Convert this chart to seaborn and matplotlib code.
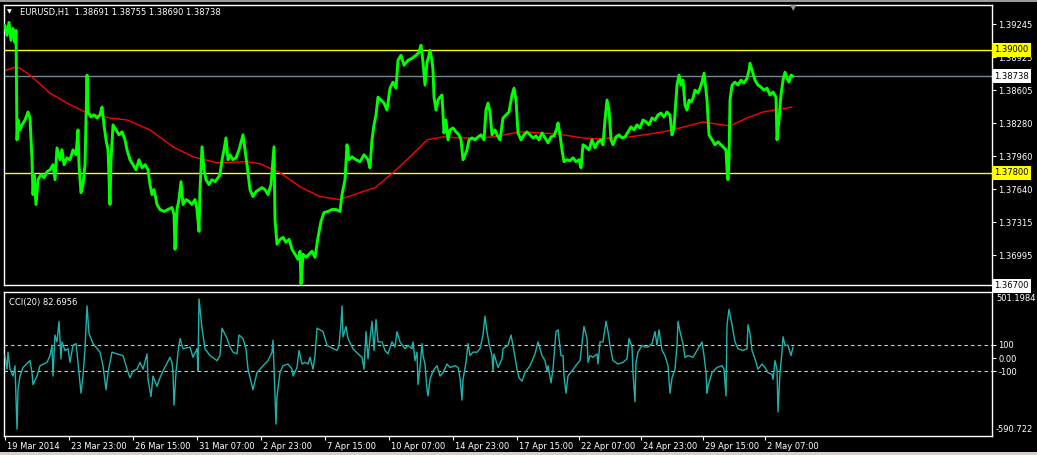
import matplotlib
matplotlib.use("Agg")
import matplotlib.pyplot as plt
import matplotlib.transforms as mtransforms
from matplotlib.patches import Rectangle
import pandas as pd
import seaborn as sns

# EURUSD H1, one sample every few bars (bar index, close)
price_points = [
    (0, 1.39236), (2, 1.39139), (4, 1.39265), (6, 1.39090), (8, 1.39206), (10, 1.39071), (11, 1.39187),
    (12, 1.38120), (13, 1.38314), (15, 1.38217), (17, 1.38266), (20, 1.38314), (23, 1.38392), (25, 1.38333),
    (27, 1.37926), (28, 1.37587), (29, 1.37781), (31, 1.37490), (33, 1.37732), (36, 1.37781), (39, 1.37751),
    (42, 1.37810), (45, 1.37829), (48, 1.37878), (50, 1.37732), (52, 1.38042), (55, 1.37926), (57, 1.38023),
    (59, 1.37878), (62, 1.37945), (65, 1.37926), (68, 1.38023), (71, 1.37975), (73, 1.38217), (74, 1.37878),
    (76, 1.37606), (78, 1.37684), (80, 1.37878), (81, 1.38314), (82, 1.38751), (83, 1.38392), (86, 1.38343),
    (89, 1.38363), (92, 1.38333), (95, 1.38363), (97, 1.38440), (99, 1.38266), (101, 1.38120), (103, 1.38023),
    (105, 1.37490), (106, 1.37926), (108, 1.38266), (111, 1.38217), (114, 1.38169), (117, 1.38198),
    (120, 1.38120), (122, 1.38023), (125, 1.37926), (128, 1.37878), (131, 1.37829), (134, 1.37926),
    (137, 1.37848), (140, 1.37878), (143, 1.37829), (145, 1.37684), (147, 1.37587), (149, 1.37635),
    (152, 1.37490), (155, 1.37441), (159, 1.37422), (163, 1.37441), (167, 1.37460), (169, 1.37393),
    (170, 1.37053), (172, 1.37441), (174, 1.37538), (176, 1.37713), (178, 1.37490), (181, 1.37538),
    (184, 1.37519), (187, 1.37490), (190, 1.37538), (192, 1.37441), (194, 1.37228), (195, 1.37635),
    (197, 1.38052), (199, 1.37829), (201, 1.37732), (204, 1.37684), (207, 1.37732), (210, 1.37713),
    (213, 1.37751), (215, 1.37781), (217, 1.37926), (219, 1.38023), (221, 1.38139), (223, 1.37926),
    (225, 1.37975), (228, 1.37926), (231, 1.37945), (234, 1.38023), (238, 1.38169), (240, 1.38023),
    (242, 1.37878), (245, 1.37635), (248, 1.37567), (251, 1.37616), (254, 1.37635), (257, 1.37654),
    (260, 1.37635), (263, 1.37587), (266, 1.37684), (269, 1.38052), (270, 1.37344), (272, 1.37102),
    (275, 1.37150), (278, 1.37169), (281, 1.37121), (284, 1.37150), (287, 1.37053), (290, 1.37005),
    (293, 1.36956), (295, 1.37034), (296, 1.36714), (298, 1.37005), (301, 1.36975), (304, 1.37005),
    (307, 1.37034), (310, 1.36975), (313, 1.37169), (316, 1.37325), (319, 1.37412), (323, 1.37422),
    (327, 1.37441), (331, 1.37441), (335, 1.37422), (337, 1.37587), (340, 1.37732), (342, 1.38072),
    (344, 1.37926), (347, 1.37955), (351, 1.37926), (355, 1.37907), (359, 1.37975), (363, 1.37926),
    (365, 1.37848), (367, 1.38120), (369, 1.38266), (371, 1.38363), (373, 1.38537), (376, 1.38508),
    (379, 1.38479), (382, 1.38411), (385, 1.38624), (388, 1.38683), (391, 1.38624), (393, 1.38896),
    (396, 1.38945), (399, 1.38848), (403, 1.38896), (407, 1.38915), (411, 1.38945), (414, 1.38974),
    (416, 1.39042), (418, 1.38877), (420, 1.38654), (422, 1.38877), (424, 1.38945), (425, 1.38993),
    (427, 1.38896), (428, 1.38799), (429, 1.38537), (431, 1.38411), (433, 1.38508), (435, 1.38537),
    (437, 1.38557), (439, 1.38188), (441, 1.38314), (443, 1.38120), (445, 1.38217), (448, 1.38236),
    (451, 1.38198), (454, 1.38169), (456, 1.38120), (458, 1.37926), (460, 1.37975), (462, 1.38023),
    (464, 1.38120), (467, 1.38139), (470, 1.38120), (473, 1.38149), (476, 1.38169), (479, 1.38120),
    (481, 1.38411), (483, 1.38479), (485, 1.38392), (487, 1.38169), (490, 1.38217), (492, 1.38169),
    (495, 1.38120), (498, 1.38333), (501, 1.38363), (504, 1.38392), (507, 1.38557), (509, 1.38624),
    (511, 1.38508), (513, 1.38188), (516, 1.38120), (519, 1.38169), (522, 1.38198), (525, 1.38169),
    (528, 1.38139), (531, 1.38159), (534, 1.38120), (537, 1.38188), (540, 1.38139), (543, 1.38091),
    (546, 1.38149), (549, 1.38159), (552, 1.38236), (553, 1.38285), (555, 1.38169), (557, 1.38023),
    (559, 1.37907), (562, 1.37926), (565, 1.37916), (568, 1.37945), (571, 1.37907), (574, 1.37926),
    (576, 1.37848), (578, 1.38072), (581, 1.38052), (584, 1.38023), (587, 1.38120), (590, 1.38042),
    (593, 1.38101), (596, 1.38120), (598, 1.38072), (600, 1.38314), (602, 1.38508), (604, 1.38411),
    (606, 1.38120), (608, 1.38072), (611, 1.38149), (614, 1.38169), (617, 1.38139), (620, 1.38149),
    (623, 1.38198), (626, 1.38246), (629, 1.38217), (632, 1.38266), (635, 1.38236), (638, 1.38314),
    (641, 1.38295), (644, 1.38266), (647, 1.38333), (650, 1.38314), (653, 1.38363), (656, 1.38382),
    (659, 1.38343), (662, 1.38392), (665, 1.38363), (667, 1.38169), (669, 1.38236), (672, 1.38654),
    (674, 1.38751), (676, 1.38654), (678, 1.38702), (680, 1.38460), (682, 1.38411), (684, 1.38508),
    (686, 1.38489), (688, 1.38527), (690, 1.38605), (693, 1.38576), (695, 1.38624), (697, 1.38683),
    (699, 1.38770), (701, 1.38605), (702, 1.38508), (704, 1.38169), (707, 1.38120), (710, 1.38072),
    (713, 1.38101), (716, 1.38072), (719, 1.38042), (721, 1.38023), (722, 1.37829), (723, 1.37732),
    (724, 1.37926), (725, 1.38508), (727, 1.38654), (730, 1.38683), (733, 1.38654), (736, 1.38702),
    (739, 1.38673), (742, 1.38721), (744, 1.38799), (745, 1.38867), (747, 1.38799), (750, 1.38702),
    (753, 1.38654), (756, 1.38634), (759, 1.38605), (762, 1.38624), (765, 1.38557), (768, 1.38586),
    (771, 1.38537), (772, 1.38120), (774, 1.38314), (776, 1.38557), (778, 1.38702), (780, 1.38780),
    (782, 1.38721), (784, 1.38683), (786, 1.38751), (788, 1.38738),
]

# moving average (red)
ma_points = [
    (0, 1.38799), (10, 1.38828), (15, 1.38818), (25, 1.38751), (45, 1.38576), (62, 1.38479),
    (82, 1.38382), (105, 1.38333), (122, 1.38314), (145, 1.38217), (168, 1.38052), (188, 1.37955),
    (212, 1.37897), (242, 1.37907), (255, 1.37887), (275, 1.37800), (295, 1.37664), (315, 1.37567),
    (335, 1.37538), (355, 1.37606), (370, 1.37654), (388, 1.37800), (405, 1.37955), (422, 1.38120),
    (438, 1.38149), (455, 1.38139), (472, 1.38139), (488, 1.38149), (515, 1.38198), (535, 1.38188),
    (552, 1.38178), (578, 1.38139), (592, 1.38130), (625, 1.38149), (658, 1.38198), (675, 1.38236),
    (698, 1.38295), (725, 1.38256), (742, 1.38333), (758, 1.38392), (787, 1.38440),
]

# CCI(20)
cci_points = [
    (0, 19), (2, -84), (3, 45), (5, -84), (8, -136), (10, -58), (11, -292), (12, -539), (13, -240),
    (15, -136), (18, -71), (25, -19), (27, -110), (28, -201), (32, -136), (35, -58), (42, -32),
    (45, 19), (47, 97), (48, -136), (50, 175), (52, 123), (54, 279), (56, -6), (57, 123), (60, 58),
    (63, 71), (65, -32), (68, 97), (71, 110), (72, 45), (74, -110), (76, -266), (78, -136), (80, 71),
    (82, 396), (84, 188), (88, 110), (95, 45), (98, -58), (101, -240), (103, -110), (107, 45),
    (112, 32), (118, 19), (122, -84), (125, -149), (128, -97), (132, -84), (135, -32), (138, -84),
    (142, 32), (143, -162), (146, -292), (148, -136), (152, -214), (155, -149), (158, -97), (165, 6),
    (167, -32), (168, -110), (169, -357), (171, -110), (173, 45), (175, 149), (178, 71), (185, 84),
    (188, 6), (192, 71), (193, -97), (194, 448), (197, 227), (200, 71), (205, 19), (212, -19),
    (215, 19), (217, 227), (222, 149), (225, 84), (228, 45), (232, 32), (234, 175), (238, 149),
    (241, 71), (243, -84), (248, -240), (252, -110), (258, -58), (263, -19), (267, 45), (268, 136),
    (270, -292), (271, -500), (272, -292), (275, -110), (278, -58), (283, -45), (287, -84), (288, -136),
    (292, -71), (294, 58), (297, -45), (300, -32), (303, -45), (305, 6), (308, -84), (310, 19),
    (312, 227), (315, 214), (318, 201), (322, 97), (325, 84), (332, 58), (334, 97), (336, 266),
    (337, 396), (338, 162), (341, 240), (343, 149), (348, 71), (353, 32), (357, 6), (359, -84),
    (361, 201), (363, -6), (365, 149), (367, 279), (369, 58), (371, 292), (373, 123), (377, 123),
    (380, 58), (383, 32), (387, 123), (390, 84), (392, 201), (395, 123), (400, 71), (403, 97),
    (407, 71), (408, 123), (410, -19), (412, 45), (413, -201), (415, -71), (417, 110), (418, 19),
    (420, -45), (422, -240), (423, -287), (425, -162), (428, -97), (432, -58), (435, -136),
    (438, -110), (442, -45), (445, -71), (450, -58), (453, -71), (455, -149), (457, -318), (458, -162),
    (461, -32), (463, 110), (465, 19), (468, 45), (472, 45), (475, 71), (478, 175), (480, 318),
    (482, 201), (484, 110), (487, 19), (488, -97), (489, 32), (493, -71), (497, -6), (498, 71),
    (503, 97), (506, 175), (508, 97), (512, -84), (514, -149), (517, -175), (520, -110), (525, -58),
    (530, 32), (533, 123), (537, 19), (540, -19), (542, -97), (543, -58), (546, -188), (548, -84),
    (551, 201), (553, 214), (556, 19), (558, 19), (559, -136), (561, -266), (563, -136), (567, -97),
    (572, -45), (575, -19), (577, 110), (579, 240), (582, 149), (583, -32), (585, 19), (588, 6),
    (592, 32), (593, -45), (595, 123), (598, 123), (601, 279), (603, 201), (605, 97), (608, -19),
    (613, -45), (618, -32), (622, -6), (624, 149), (627, 84), (628, -110), (630, -331), (631, -32),
    (633, 45), (637, 97), (640, 84), (643, 84), (647, 110), (650, 201), (652, 97), (654, 214),
    (657, 58), (660, 19), (663, -58), (665, -266), (667, -149), (670, -84), (672, 97), (673, 279),
    (675, 201), (678, 110), (680, 6), (683, 19), (688, 6), (693, 71), (697, 123), (699, 19),
    (701, -110), (702, -266), (703, -214), (707, -110), (712, -71), (717, -58), (719, -84),
    (721, -287), (722, 253), (724, 370), (727, 253), (730, 123), (733, 71), (738, 58), (742, 71),
    (743, 253), (745, 188), (747, 58), (750, -6), (753, -84), (757, -45), (760, -71), (763, -110),
    (767, -123), (768, -162), (770, -19), (772, -84), (773, -409), (775, -110), (777, 45), (778, 162),
    (780, 97), (783, 97), (786, 19), (788, 82.6956),
]

tick_bars = [0, 64, 128, 192, 256, 320, 384, 448, 512, 574, 636, 698, 760]
tick_labels = ["19 Mar 2014", "23 Mar 23:00", "26 Mar 15:00", "31 Mar 07:00", "2 Apr 23:00",
               "7 Apr 15:00", "10 Apr 07:00", "14 Apr 23:00", "17 Apr 15:00", "22 Apr 07:00",
               "24 Apr 23:00", "29 Apr 15:00", "2 May 07:00"]
price_ticks = [1.39245, 1.38925, 1.38605, 1.38280, 1.37960, 1.37640, 1.37315, 1.36995]
yellow_levels = [1.39000, 1.37800]
bid_price = 1.38738
price_range = (1.36705, 1.39435)
cci_range = (-590.722, 501.1984)
cci_levels = [100, -100]
header = "EURUSD,H1  1.38691 1.38755 1.38690 1.38738"
cci_header = "CCI(20) 82.6956"

price_df = pd.DataFrame(price_points, columns=["bar", "close"])
ma_df = pd.DataFrame(ma_points, columns=["bar", "ma"])
cci_df = pd.DataFrame(cci_points, columns=["bar", "cci"])

sns.set_theme(style="dark", rc={
    "figure.facecolor": "black", "axes.facecolor": "black",
    "axes.edgecolor": "white", "text.color": "white",
    "xtick.color": "white", "ytick.color": "white",
    "xtick.labelcolor": "white", "ytick.labelcolor": "white",
})
plt.rcParams["font.family"] = ["DejaVu Sans"]
fs = 6

fig = plt.figure(figsize=(10.37, 4.55), dpi=100)
ax = fig.add_axes([0.00386, 0.37363, 0.95275, 0.61538])
ax2 = fig.add_axes([0.00386, 0.04176, 0.95275, 0.31648])

# light strips at the window edges
fig.patches.append(Rectangle((0, 0), 1, 0.007, transform=fig.transFigure, fc="#D4D0C8", ec="none"))
fig.patches.append(Rectangle((0, 0.9965), 1, 0.0035, transform=fig.transFigure, fc="#9A9A9A", ec="none"))

for a in (ax, ax2):
    a.set_xlim(-1, 987)
    for s in a.spines.values():
        s.set_color("white")
        s.set_linewidth(1)
    a.grid(False)

# price panel
for lv in yellow_levels:
    ax.axhline(lv, color="#FFFF00", lw=1, zorder=1)
ax.axhline(bid_price, color="#778899", lw=1, zorder=1)
sns.lineplot(data=ma_df, x="bar", y="ma", ax=ax, color="#FF0000", lw=1, estimator=None, sort=False, zorder=2)
sns.lineplot(data=price_df, x="bar", y="close", ax=ax, color="#00FF00", lw=2.1, estimator=None, sort=False,
             zorder=3)
ax.set_ylim(*price_range)
ax.set_xlabel("")
ax.set_ylabel("")
ax.yaxis.tick_right()
ax.set_yticks(price_ticks)
ax.set_yticklabels(["%.5f" % v for v in price_ticks])
ax.tick_params(axis="y", length=3, width=0.8, pad=1.5, labelsize=fs, direction="out", right=True)
ax.set_xticks([])

trans = mtransforms.blended_transform_factory(ax.transAxes, ax.transData)
for lv, bg in [(1.39000, "#FFFF00"), (bid_price, "white"), (1.37800, "#FFFF00"), (1.36700, "white")]:
    ax.text(1.0022, lv, "%.5f" % lv, transform=trans, fontsize=fs, color="black", va="center", ha="left",
            clip_on=False, zorder=10,
            bbox=dict(boxstyle="square,pad=0.3", fc=bg, ec="none"))

ax.text(0.0035, 0.975, "\u25BC", transform=ax.transAxes, fontsize=4.5, color="white", va="center")
ax.text(0.016, 0.975, header, transform=ax.transAxes, fontsize=fs, color="white", va="center")

# CCI panel
for lv in cci_levels:
    ax2.axhline(lv, color="#D0D0D0", lw=0.8, ls=(0, (3, 3)), zorder=1)
sns.lineplot(data=cci_df, x="bar", y="cci", ax=ax2, color="#20B2AA", lw=1, estimator=None, sort=False, zorder=3)
ax2.set_ylim(*cci_range)
ax2.set_xlabel("")
ax2.set_ylabel("")
ax2.yaxis.tick_right()
ax2.set_yticks([100, 0, -100])
ax2.set_yticklabels(["100", "0.00", "-100"])
ax2.tick_params(axis="y", length=3, width=0.8, pad=1.5, labelsize=fs, direction="out", right=True)
ax2.text(1.004, 0.985, "%.4f" % cci_range[1], transform=ax2.transAxes, fontsize=fs, va="top", ha="left")
ax2.text(1.004, 0.015, "%.3f" % cci_range[0], transform=ax2.transAxes, fontsize=fs, va="bottom", ha="left")
ax2.text(0.005, 0.925, cci_header, transform=ax2.transAxes, fontsize=fs, color="white", va="center")

ax2.set_xticks(tick_bars)
ax2.set_xticklabels(tick_labels, ha="left")
ax2.tick_params(axis="x", length=3, width=0.8, pad=1.5, labelsize=fs, direction="out", bottom=True)
offset = mtransforms.ScaledTranslation(1.5 / 100, 0, fig.dpi_scale_trans)
for lab in ax2.get_xticklabels():
    lab.set_transform(lab.get_transform() + offset)

# chart shift marker
fig.text(0.7645, 0.993, "\u25BC", fontsize=6, color="#8A96A0", ha="center", va="top")

fig.savefig("out.png", dpi=100, facecolor="black")
